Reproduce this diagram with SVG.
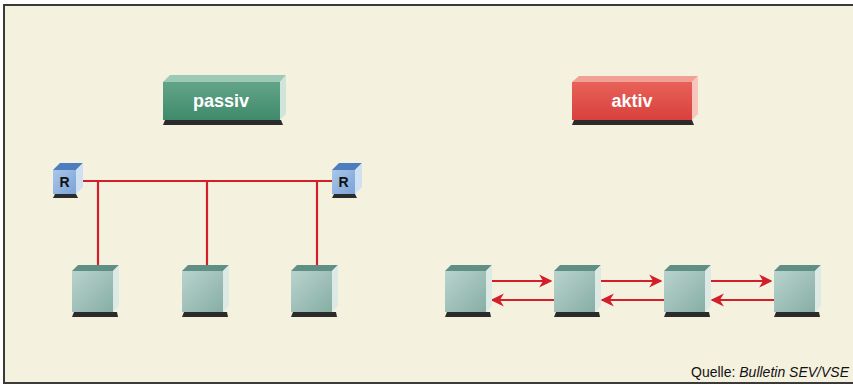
<svg xmlns="http://www.w3.org/2000/svg" xmlns:xlink="http://www.w3.org/1999/xlink" width="853" height="385" viewBox="0 0 853 385">
<defs>
<style>
.red{stroke:#d21f2a;stroke-width:2.2;fill:none}
.shadow{fill:#2b2b2b}
.lbl{font-family:"Liberation Sans",Arial,sans-serif;font-weight:bold;font-size:18px;fill:#ffffff;text-anchor:middle}
.r{font-family:"Liberation Sans",Arial,sans-serif;font-weight:bold;font-size:14px;fill:#111;text-anchor:middle}
.src{font-family:"Liberation Sans",Arial,sans-serif;font-size:14px;fill:#111;text-anchor:end}
</style>
<linearGradient id="gFront" x1="0" y1="0" x2="1" y2="1">
<stop offset="0" stop-color="#b9d3cd"/><stop offset="1" stop-color="#86aea5"/>
</linearGradient>
<linearGradient id="gGreen" x1="0" y1="0" x2="0" y2="1">
<stop offset="0" stop-color="#63a487"/><stop offset="1" stop-color="#3f8a6b"/>
</linearGradient>
<linearGradient id="gRed" x1="0" y1="0" x2="0" y2="1">
<stop offset="0" stop-color="#e8625a"/><stop offset="1" stop-color="#d8403d"/>
</linearGradient>
<linearGradient id="gBlue" x1="0" y1="0" x2="1" y2="1">
<stop offset="0" stop-color="#a9c6ea"/><stop offset="1" stop-color="#7aa3d6"/>
</linearGradient>
<g id="cube">
<polygon class="shadow" points="2,41 45,41 46,46 0,46"/>
<rect x="0" y="0" width="41" height="41" fill="url(#gFront)"/>
<polygon points="0,0 6,-6 47,-6 41,0" fill="#5f8f85"/>
<polygon points="41,0 47,-6 47,35 41,41" fill="#dce9e5"/>
</g>
<g id="rcube">
<polygon class="shadow" points="2,24 23,24 25,28 0,28"/>
<rect x="0" y="0" width="23" height="24" fill="url(#gBlue)"/>
<polygon points="0,0 7,-7 30,-7 23,0" fill="#4d7dbd"/>
<polygon points="23,0 30,-7 30,17 23,24" fill="#cfe0f3"/>
<text class="r" x="11.5" y="17">R</text>
</g>
<marker id="ah" viewBox="0 0 10 10" refX="9" refY="5" markerWidth="6" markerHeight="6" orient="auto" markerUnits="strokeWidth">
<path d="M0,0 L10,5 L0,10 L3,5 Z" fill="#d21f2a"/>
</marker>
</defs>
<rect x="0" y="0" width="853" height="385" fill="#ffffff"/>
<rect x="4" y="5" width="860" height="378" fill="#f5f1df" stroke="#3a3a3a" stroke-width="2"/>

<g id="connectors">
<line class="red" x1="76" y1="181" x2="332" y2="181"/>
<line class="red" x1="98" y1="181" x2="98" y2="266"/>
<line class="red" x1="207" y1="181" x2="207" y2="266"/>
<line class="red" x1="317" y1="181" x2="317" y2="266"/>
<line class="red" x1="491" y1="281" x2="551" y2="281" marker-end="url(#ah)"/>
<line class="red" x1="554" y1="300" x2="492" y2="300" marker-end="url(#ah)"/>
<line class="red" x1="601" y1="281" x2="661" y2="281" marker-end="url(#ah)"/>
<line class="red" x1="664" y1="300" x2="602" y2="300" marker-end="url(#ah)"/>
<line class="red" x1="711" y1="281" x2="771" y2="281" marker-end="url(#ah)"/>
<line class="red" x1="774" y1="300" x2="712" y2="300" marker-end="url(#ah)"/>
</g>

<g id="passiv">
<polygon class="shadow" points="165,120 281,120 283,125 163,125"/>
<rect x="163" y="82" width="117" height="38" fill="url(#gGreen)"/>
<polygon points="163,82 170,75 286,75 280,82" fill="#9ccab6"/>
<polygon points="280,82 286,75 286,114 280,120" fill="#cfe5da"/>
<text class="lbl" x="221" y="107">passiv</text>
</g>
<g id="aktiv">
<polygon class="shadow" points="574,120 692,120 694,125 572,125"/>
<rect x="572" y="82" width="120" height="38" fill="url(#gRed)"/>
<polygon points="572,82 579,76 698,76 692,82" fill="#f2a096"/>
<polygon points="692,82 698,76 698,114 692,120" fill="#f6c6bd"/>
<text class="lbl" x="632" y="107">aktiv</text>
</g>

<g id="r1"><use href="#rcube" x="53" y="170"/></g>
<g id="r2"><use href="#rcube" x="332" y="170"/></g>

<g id="p1"><use href="#cube" x="72" y="271"/></g>
<g id="p2"><use href="#cube" x="182" y="271"/></g>
<g id="p3"><use href="#cube" x="291" y="271"/></g>

<g id="a1"><use href="#cube" x="445" y="271"/></g>
<g id="a2"><use href="#cube" x="554" y="271"/></g>
<g id="a3"><use href="#cube" x="664" y="271"/></g>
<g id="a4"><use href="#cube" x="774" y="271"/></g>

<text class="src" x="849" y="377">Quelle: <tspan font-style="italic">Bulletin SEV/VSE</tspan></text>
</svg>
